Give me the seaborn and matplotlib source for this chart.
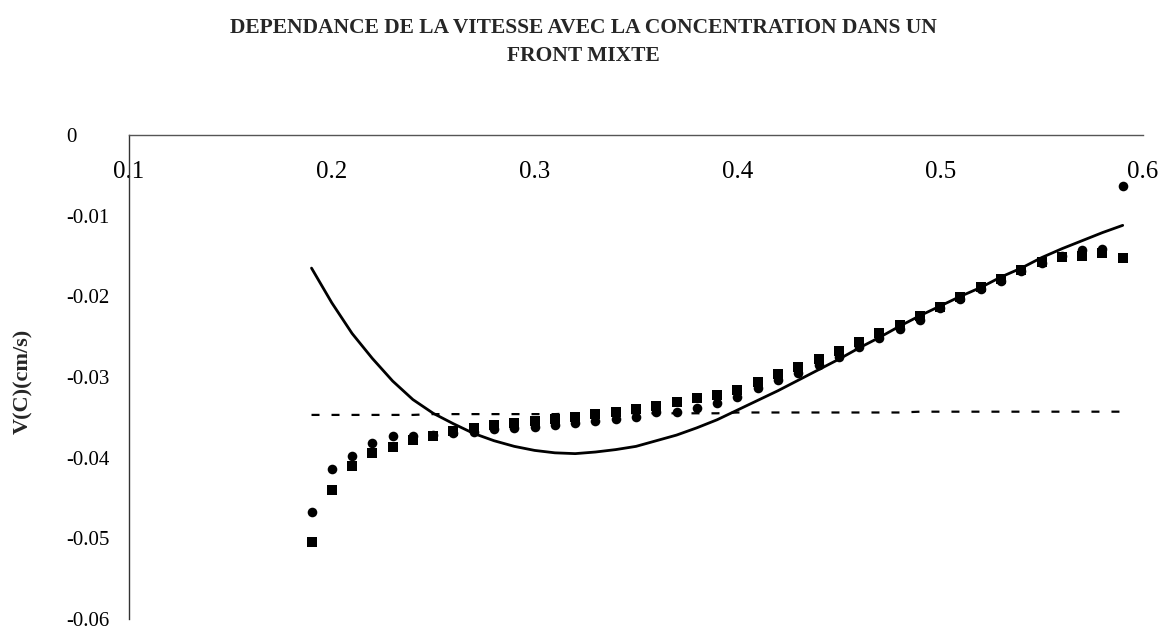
import matplotlib
matplotlib.use("Agg")
import matplotlib.pyplot as plt
import pandas as pd
import seaborn as sns

# Concentration C (sampled every 0.01)
conc = [0.19, 0.20, 0.21, 0.22, 0.23, 0.24, 0.25, 0.26, 0.27, 0.28,
        0.29, 0.30, 0.31, 0.32, 0.33, 0.34, 0.35, 0.36, 0.37, 0.38,
        0.39, 0.40, 0.41, 0.42, 0.43, 0.44, 0.45, 0.46, 0.47, 0.48,
        0.49, 0.50, 0.51, 0.52, 0.53, 0.54, 0.55, 0.56, 0.57, 0.58, 0.59]

# Measured velocities, first series (round markers)
v_circles = [-0.0467, -0.0414, -0.0398, -0.0382, -0.0373, -0.0373, -0.0372, -0.0370, -0.0368, -0.0365,
             -0.0363, -0.0362, -0.0360, -0.0357, -0.0355, -0.0352, -0.0349, -0.0344, -0.0343, -0.0339,
             -0.0332, -0.0325, -0.0314, -0.0304, -0.0295, -0.0285, -0.0275, -0.0263, -0.0252, -0.0240,
             -0.0229, -0.0215, -0.0203, -0.0191, -0.0181, -0.0169, -0.0159, -0.0150, -0.0143, -0.0141, -0.0063]

# Measured velocities, second series (square markers)
v_squares = [-0.0504, -0.0440, -0.0410, -0.0394, -0.0387, -0.0378, -0.0373, -0.0367, -0.0363, -0.0360,
             -0.0357, -0.0354, -0.0352, -0.0349, -0.0346, -0.0343, -0.0340, -0.0336, -0.0331, -0.0326,
             -0.0322, -0.0316, -0.0306, -0.0296, -0.0288, -0.0278, -0.0268, -0.0257, -0.0245, -0.0235,
             -0.0224, -0.0213, -0.0201, -0.0189, -0.0179, -0.0167, -0.0157, -0.0151, -0.0150, -0.0146, -0.0153]

# Model curve V(C)
v_model = [-0.0165, -0.0208, -0.0246, -0.0277, -0.0305, -0.0328, -0.0345, -0.0358, -0.0370, -0.0379,
           -0.0386, -0.0391, -0.0394, -0.0395, -0.0393, -0.0390, -0.0386, -0.0379, -0.0372, -0.0363,
           -0.0353, -0.0341, -0.0329, -0.0317, -0.0304, -0.0291, -0.0278, -0.0264, -0.0251, -0.0237,
           -0.0224, -0.0212, -0.0200, -0.0189, -0.0176, -0.0165, -0.0152, -0.0141, -0.0131, -0.0121, -0.0112]

# Front velocity (dashed)
v_front = [-0.0347, -0.0347, -0.0347, -0.0347, -0.0347, -0.0347, -0.0346, -0.0346, -0.0346, -0.0346,
           -0.0346, -0.0346, -0.0346, -0.0345, -0.0345, -0.0345, -0.0345, -0.0345, -0.0345, -0.0345,
           -0.0345, -0.0344, -0.0344, -0.0344, -0.0344, -0.0344, -0.0344, -0.0344, -0.0344, -0.0344,
           -0.0343, -0.0343, -0.0343, -0.0343, -0.0343, -0.0343, -0.0343, -0.0343, -0.0343, -0.0343, -0.0343]

x_ticks = [0.1, 0.2, 0.3, 0.4, 0.5, 0.6]
x_ticklabels = ["0.1", "0.2", "0.3", "0.4", "0.5", "0.6"]
y_ticks = [0.0, -0.01, -0.02, -0.03, -0.04, -0.05, -0.06]
y_ticklabels = ["0", "-0.01", "-0.02", "-0.03", "-0.04", "-0.05", "-0.06"]

title = "DEPENDANCE DE LA VITESSE AVEC LA CONCENTRATION DANS UN\nFRONT MIXTE"
y_label = "V(C)(cm/s)"

df = pd.DataFrame({"C": conc, "circles": v_circles, "squares": v_squares,
                   "model": v_model, "front": v_front})

sns.set_style("white")
plt.rcParams["font.family"] = ["Liberation Serif", "DejaVu Serif"]

W, H = 1166, 629
fig = plt.figure(figsize=(W / 100, H / 100), dpi=100)
ax = fig.add_axes([129 / W, 10 / H, 1014 / W, 484 / H])

sns.lineplot(data=df, x="C", y="front", color="black", linewidth=1.6,
             linestyle=(0, (3.6, 5.4)), ax=ax)
sns.scatterplot(data=df, x="C", y="circles", marker="o", s=48, color="black",
                edgecolor="black", linewidth=0, ax=ax, zorder=3)
sns.scatterplot(data=df, x="C", y="squares", marker="s", s=44, color="black",
                edgecolor="black", linewidth=0, ax=ax, zorder=3)
sns.lineplot(data=df, x="C", y="model", color="black", linewidth=2.0, ax=ax, zorder=4)

ax.set_xlim(0.1, 0.6)
ax.set_ylim(-0.06, 0.0)

ax.spines["top"].set_visible(False)
ax.spines["right"].set_visible(False)
ax.spines["bottom"].set_position(("data", 0.0))
ax.spines["bottom"].set_color("#555555")
ax.spines["left"].set_color("#333333")
for side in ("bottom", "left"):
    ax.spines[side].set_linewidth(1.0)

ax.set_xticks(x_ticks)
ax.set_xticklabels(x_ticklabels)
ax.set_yticks(y_ticks)
ax.set_yticklabels(y_ticklabels)
ax.tick_params(axis="x", direction="inout", length=10, width=1, colors="#333333",
               labelcolor="black", labelsize=18, pad=14)
# y labels start at a common left edge
ax.tick_params(axis="y", direction="inout", length=9, width=1, colors="#333333",
               labelcolor="black", labelsize=15, pad=40.5)
for lbl in ax.get_yticklabels():
    lbl.set_horizontalalignment("left")

ax.set_xlabel("")
ax.set_ylabel(y_label, fontsize=16, fontweight="bold")
ax.yaxis.set_label_coords(-0.104, 0.49)
ax.yaxis.label.set_va("center")

fig.text(0.5, 1 - 42 / H, title, ha="center", va="center", fontsize=15.5,
         fontweight="bold", linespacing=1.55)

fig.savefig("out.png", dpi=100, facecolor="white")
